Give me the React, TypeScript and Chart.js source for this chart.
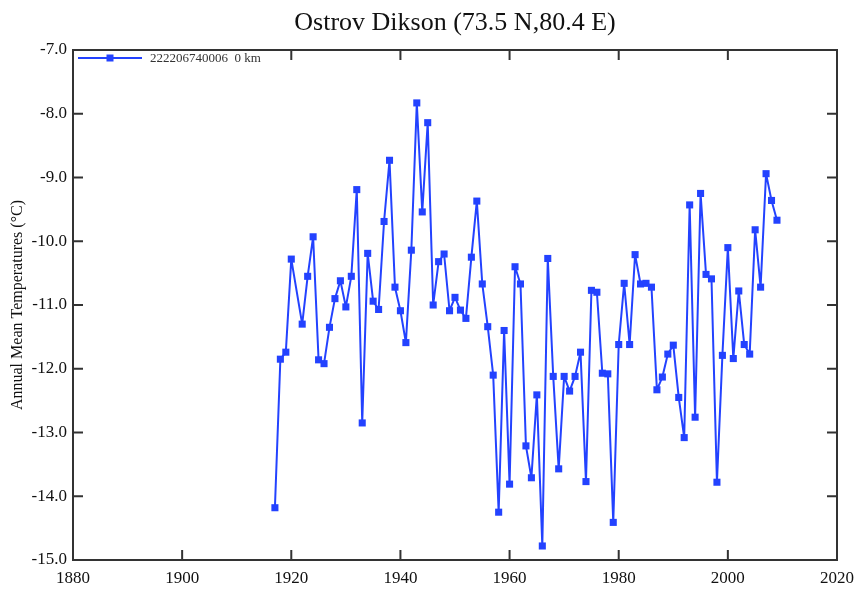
import React, { useEffect, useRef } from "react";
import { Chart, registerables } from "chart.js";

Chart.register(...registerables);

const chartTitle = "Ostrov Dikson (73.5 N,80.4 E)";
const yAxisTitle = "Annual Mean Temperatures (°C)";
const seriesLabel = "222206740006  0 km";

const years = [
  1917, 1918, 1919, 1920, 1922, 1923, 1924, 1925, 1926, 1927, 1928, 1929, 1930,
  1931, 1932, 1933, 1934, 1935, 1936, 1937, 1938, 1939, 1940, 1941, 1942, 1943,
  1944, 1945, 1946, 1947, 1948, 1949, 1950, 1951, 1952, 1953, 1954, 1955, 1956,
  1957, 1958, 1959, 1960, 1961, 1962, 1963, 1964, 1965, 1966, 1967, 1968, 1969,
  1970, 1971, 1972, 1973, 1974, 1975, 1976, 1977, 1978, 1979, 1980, 1981, 1982,
  1983, 1984, 1985, 1986, 1987, 1988, 1989, 1990, 1991, 1992, 1993, 1994, 1995,
  1996, 1997, 1998, 1999, 2000, 2001, 2002, 2003, 2004, 2005, 2006, 2007, 2008,
  2009,
];

const temps = [
  -14.18, -11.85, -11.74, -10.28, -11.3, -10.55, -9.93, -11.86, -11.92, -11.35,
  -10.9, -10.62, -11.03, -10.55, -9.19, -12.85, -10.19, -10.94, -11.07, -9.69,
  -8.73, -10.72, -11.09, -11.59, -10.14, -7.83, -9.54, -8.14, -11.0, -10.32,
  -10.2, -11.09, -10.88, -11.08, -11.21, -10.25, -9.37, -10.67, -11.34, -12.1,
  -14.25, -11.4, -13.81, -10.4, -10.67, -13.21, -13.71, -12.41, -14.78, -10.27,
  -12.12, -13.57, -12.12, -12.35, -12.12, -11.74, -13.77, -10.77, -10.8, -12.07,
  -12.08, -14.41, -11.62, -10.66, -11.62, -10.21, -10.67, -10.66, -10.72, -12.33,
  -12.13, -11.77, -11.63, -12.45, -13.08, -9.43, -12.76, -9.25, -10.52, -10.59,
  -13.78, -11.79, -10.1, -11.84, -10.78, -11.62, -11.77, -9.82, -10.72, -8.94,
  -9.36, -9.67,
];

const xMin = 1880;
const xMax = 2020;
const xStep = 20;
const yMin = -15;
const yMax = -7;
const yStep = 1;

const FONT = "'Liberation Serif', 'Times New Roman', serif";
const LINE_COLOR = "#2342ff";
const FRAME_COLOR = "#333333";

const framePlugin = {
  id: "framePlugin",
  afterDraw(chart: any) {
    const { ctx, chartArea } = chart;
    const { left, right, top, bottom } = chartArea;
    const xs = chart.scales.x;
    const ys = chart.scales.y;
    ctx.save();
    // title
    ctx.fillStyle = "#111";
    ctx.font = `26px ${FONT}`;
    ctx.textAlign = "center";
    ctx.textBaseline = "middle";
    ctx.fillText(chartTitle, (left + right) / 2, 23);

    // frame
    ctx.strokeStyle = FRAME_COLOR;
    ctx.lineWidth = 2;
    ctx.strokeRect(left, top, right - left, bottom - top);

    // inward ticks
    const tl = 10;
    ctx.lineWidth = 2;
    ctx.beginPath();
    xs.ticks.forEach((t: any) => {
      const px = xs.getPixelForValue(t.value);
      if (Math.abs(px - left) < 2 || Math.abs(px - right) < 2) return;
      ctx.moveTo(px, bottom);
      ctx.lineTo(px, bottom - tl);
      ctx.moveTo(px, top);
      ctx.lineTo(px, top + tl);
    });
    ys.ticks.forEach((t: any) => {
      const py = ys.getPixelForValue(t.value);
      if (Math.abs(py - top) < 2 || Math.abs(py - bottom) < 2) return;
      ctx.moveTo(left, py);
      ctx.lineTo(left + tl, py);
      ctx.moveTo(right, py);
      ctx.lineTo(right - tl, py);
    });
    ctx.stroke();

    // legend (white box hides ticks behind it)
    const ds = chart.data.datasets[0];
    ctx.font = `13px ${FONT}`;
    const textX = left + 77;
    const tw = ctx.measureText(ds.label).width;
    ctx.fillStyle = "#ffffff";
    ctx.fillRect(left + 2, top + 1, textX + tw + 4 - (left + 2), 15);
    const ly = top + 8;
    const lx0 = left + 5;
    const lx1 = left + 69;
    ctx.strokeStyle = ds.borderColor;
    ctx.lineWidth = 2;
    ctx.beginPath();
    ctx.moveTo(lx0, ly);
    ctx.lineTo(lx1, ly);
    ctx.stroke();
    ctx.fillStyle = ds.backgroundColor;
    ctx.fillRect((lx0 + lx1) / 2 - 3.5, ly - 3.5, 7, 7);
    ctx.fillStyle = "#333";
    ctx.textAlign = "left";
    ctx.textBaseline = "middle";
    ctx.fillText(ds.label, textX, ly + 1);
    ctx.restore();
  },
};

export default function App() {
  const canvasRef = useRef<HTMLCanvasElement | null>(null);

  useEffect(() => {
    document.body.style.margin = "0";
    const canvas = canvasRef.current;
    if (!canvas) return;
    const chart = new Chart(canvas, {
      type: "line",
      data: {
        datasets: [
          {
            label: seriesLabel,
            data: years.map((yr, i) => ({ x: yr, y: temps[i] })),
            borderColor: LINE_COLOR,
            backgroundColor: LINE_COLOR,
            borderWidth: 2,
            borderJoinStyle: "round",
            pointStyle: "rect",
            pointRadius: 5,
            pointBorderWidth: 0,
            tension: 0,
            fill: false,
          },
        ],
      },
      options: {
        animation: false,
        responsive: true,
        maintainAspectRatio: false,
        layout: { padding: { top: 50, right: 24, left: 0, bottom: 0 } },
        plugins: {
          legend: { display: false },
          title: { display: false },
          tooltip: { enabled: false },
        },
        scales: {
          x: {
            type: "linear",
            min: xMin,
            max: xMax,
            grid: { display: false, drawTicks: false },
            border: { display: false },
            ticks: {
              stepSize: xStep,
              padding: 8,
              color: "#111",
              font: { family: FONT, size: 17 },
              maxRotation: 0,
              callback: (v: any) => String(v),
            },
            afterFit: (s: any) => {
              s.height = 30;
            },
          },
          y: {
            type: "linear",
            min: yMin,
            max: yMax,
            grid: { display: false, drawTicks: false },
            border: { display: false },
            title: {
              display: true,
              text: yAxisTitle,
              color: "#111",
              font: { family: FONT, size: 16 },
              padding: { top: 8, bottom: 0 },
            },
            ticks: {
              stepSize: yStep,
              padding: 6,
              color: "#111",
              font: { family: FONT, size: 17 },
              callback: (v: any) => Number(v).toFixed(1),
            },
            afterFit: (s: any) => {
              s.width = 73;
            },
          },
        },
      },
      plugins: [framePlugin],
    });
    return () => chart.destroy();
  }, []);

  return (
    <div style={{ width: 862, height: 590, position: "relative" }}>
      <canvas ref={canvasRef} />
    </div>
  );
}
